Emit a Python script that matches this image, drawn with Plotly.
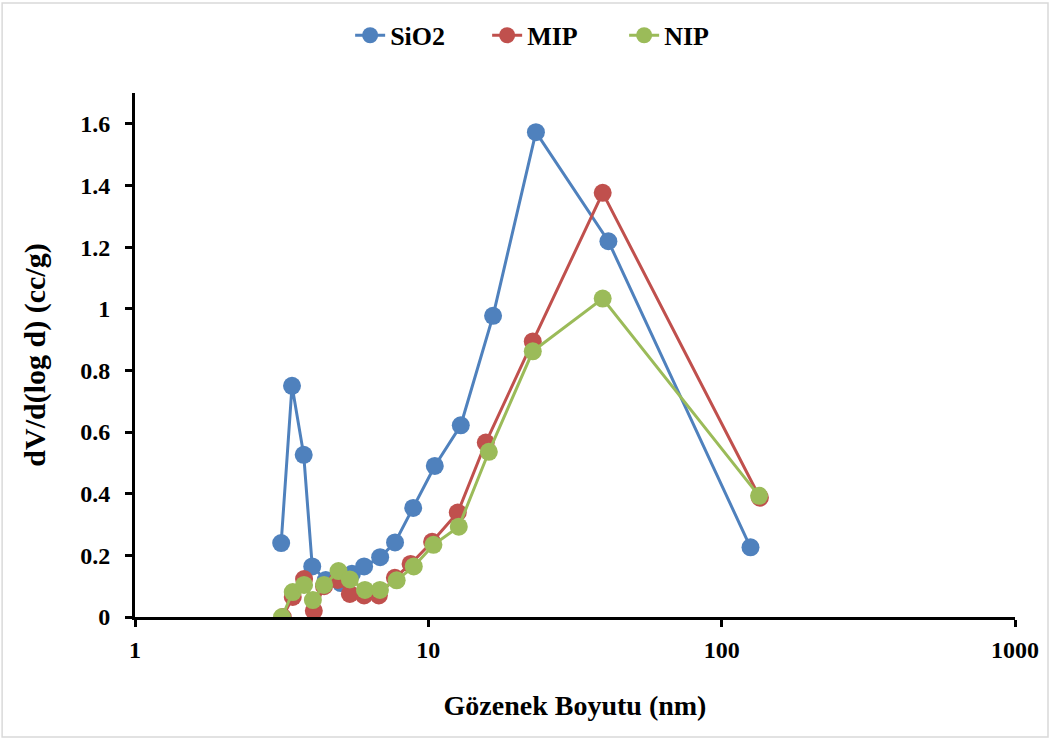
import plotly.graph_objects as go

# ---- data ----
sio2_x = [3.15, 3.43, 3.76, 4.02, 4.47, 5.03, 5.49, 6.04, 6.85, 7.70, 8.88, 10.52, 12.90, 16.62, 23.27, 41.1, 125.4]
sio2_y = [0.24, 0.750, 0.526, 0.164, 0.12, 0.11, 0.14, 0.164, 0.194, 0.242, 0.354, 0.490, 0.622, 0.977, 1.573, 1.219, 0.226]

mip_x = [3.19, 3.45, 3.77, 4.07, 4.41, 4.91, 5.40, 6.04, 6.78, 7.69, 8.70, 10.3, 12.6, 15.7, 22.7, 39.3, 135.0]
mip_y = [0.0, 0.065, 0.123, 0.02, 0.10, 0.12, 0.075, 0.07, 0.07, 0.127, 0.172, 0.244, 0.339, 0.566, 0.894, 1.376, 0.387]

nip_x = [3.17, 3.45, 3.77, 4.04, 4.41, 4.94, 5.40, 6.08, 6.84, 7.80, 8.92, 10.41, 12.70, 16.08, 22.7, 39.3, 134.1]
nip_y = [0.0, 0.081, 0.104, 0.055, 0.104, 0.149, 0.122, 0.088, 0.088, 0.119, 0.164, 0.234, 0.293, 0.536, 0.862, 1.033, 0.393]

x_tickvals = [1, 10, 100, 1000]
x_ticktext = ["1", "10", "100", "1000"]
y_tickvals = [0, 0.2, 0.4, 0.6, 0.8, 1.0, 1.2, 1.4, 1.6]
y_ticktext = ["0", "0.2", "0.4", "0.6", "0.8", "1", "1.2", "1.4", "1.6"]

series_names = ["SiO2", "MIP", "NIP"]
colors = ["#4F81BD", "#C0504D", "#9BBB59"]

FONT = "Liberation Serif"

fig = go.Figure()
for name, xs, ys, c in zip(series_names, [sio2_x, mip_x, nip_x], [sio2_y, mip_y, nip_y], colors):
    fig.add_trace(go.Scatter(
        x=xs, y=ys, name=name, mode="lines+markers",
        line=dict(color=c, width=3),
        marker=dict(color=c, size=18, line=dict(width=0)),
    ))

fig.update_layout(
    width=1051, height=740,
    margin=dict(l=135, r=36, t=93, b=123),
    paper_bgcolor="white", plot_bgcolor="white",
    font=dict(family=FONT, size=22, color="black"),
    showlegend=True,
    legend=dict(orientation="h", x=0.478, xanchor="center", y=1.11, yanchor="middle",
                font=dict(family=FONT, size=26, color="black", weight="bold"),
                entrywidth=92, bgcolor="rgba(0,0,0,0)"),
    xaxis=dict(
        type="log", range=[0, 3],
        tickvals=x_tickvals, ticktext=x_ticktext,
        showgrid=False, zeroline=False,
        showline=True, linecolor="black", linewidth=3,
        ticks="outside", tickcolor="black", tickwidth=3, ticklen=7,
        ticklabelstandoff=2,
        tickfont=dict(family=FONT, size=24, color="black", weight="bold"),
        title=dict(text="Gözenek Boyutu (nm)", standoff=34,
                   font=dict(family=FONT, size=28, color="black", weight="bold")),
    ),
    yaxis=dict(
        range=[0, 1.7],
        tickvals=y_tickvals, ticktext=y_ticktext,
        showgrid=False, zeroline=False,
        showline=True, linecolor="black", linewidth=3,
        ticks="outside", tickcolor="black", tickwidth=3, ticklen=7,
        ticklabelstandoff=10,
        tickfont=dict(family=FONT, size=24, color="black", weight="bold"),
        title=dict(text="dV/d(log d) (cc/g)", standoff=26,
                   font=dict(family=FONT, size=30, color="black", weight="bold")),
    ),
    shapes=[dict(type="rect", xref="paper", yref="paper",
                 x0=-0.151, x1=1.0375, y0=-0.229, y1=1.1718,
                 line=dict(color="#d9d9d9", width=1.5), fillcolor="rgba(0,0,0,0)", layer="below")],
)

fig.write_html("out.html")
